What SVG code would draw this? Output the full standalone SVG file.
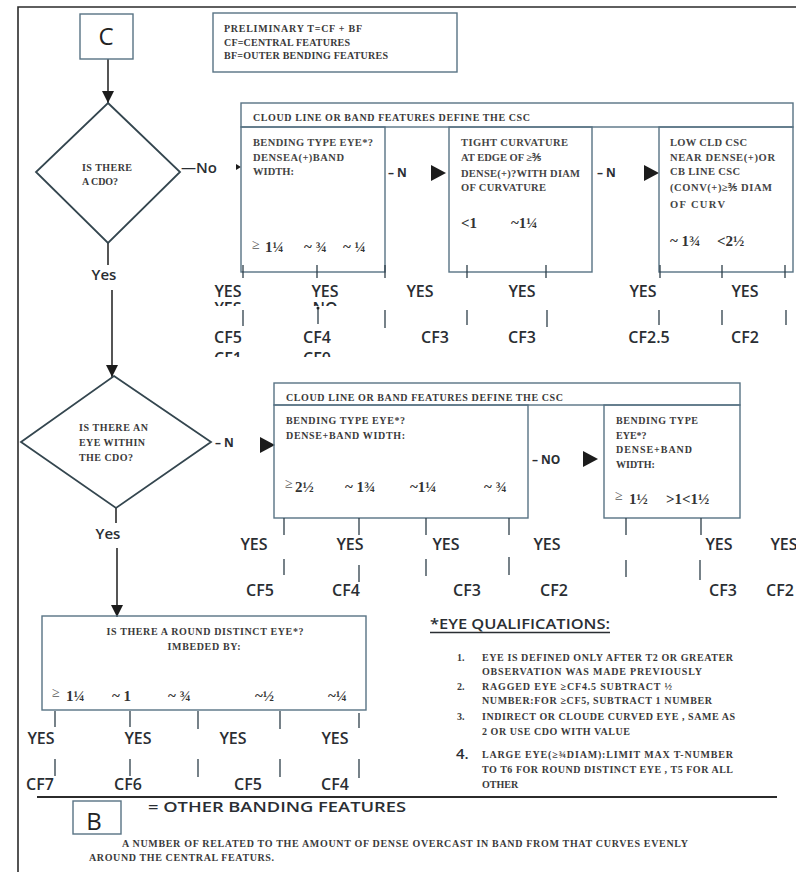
<svg xmlns="http://www.w3.org/2000/svg" width="796" height="872" viewBox="0 0 796 872">
<defs>
<style>
.frame{stroke:#2b2b2b;stroke-width:1.6;fill:none}
.box{stroke:#587384;stroke-width:1.4;fill:none}
.dia{stroke:#34464f;stroke-width:1.8;fill:#fff}
.tick{stroke:#2f3f4a;stroke-width:1.3}
.conn{stroke:#2b2b2b;stroke-width:1.6;fill:none}
.tri{fill:#1c1c1c}
.s{font-family:"Liberation Serif","Times New Roman",serif;font-weight:bold;fill:#3a3a3a;font-size:10px}
.sv{font-family:"Liberation Serif","Times New Roman",serif;font-weight:bold;fill:#333;font-size:15px}
.ge{font-family:"Liberation Serif","Times New Roman",serif;fill:#555;font-size:14px}
.sg{font-family:"Liberation Serif","Times New Roman",serif;font-weight:bold;fill:#444;font-size:10.5px}
.l{font-family:"Open Sans","Liberation Sans",sans-serif;font-weight:600;fill:#2a2e33;font-size:16px;text-anchor:middle}
.y{font-family:"Open Sans","Liberation Sans",sans-serif;font-weight:600;fill:#2a2e33;font-size:15px}
.n{font-family:"Open Sans","Liberation Sans",sans-serif;font-weight:bold;fill:#2a2e33;font-size:12px}
.big{font-family:"Open Sans","Liberation Sans",sans-serif;fill:#222;font-size:24px;text-anchor:middle}
</style>
<marker id="arr" markerUnits="userSpaceOnUse" markerWidth="14" markerHeight="14" refX="12" refY="6" orient="auto">
<path d="M0,0 L12,6 L0,12 Z" fill="#1c1c1c"/>
</marker>
<clipPath id="c1"><rect x="200" y="301" width="160" height="5"/></clipPath>
<clipPath id="c2"><rect x="200" y="351" width="160" height="6"/></clipPath>
</defs>
<rect width="796" height="872" fill="#fff"/>
<g id="frame">
<path class="frame" d="M18,872 V7 H796"/>
</g>
<g id="connectors">
<path class="conn" d="M108,59 V103" marker-end="url(#arr)"/>
<path class="conn" d="M108,243 V265"/>
<path class="conn" d="M112,290 V377" marker-end="url(#arr)"/>
<path class="conn" d="M116,508 V523"/>
<path class="conn" d="M117,548 V617" marker-end="url(#arr)"/>
<polygon class="tri" points="236,164 241,167 236,170"/>
<polygon class="tri" points="431,165 446,173 431,181"/>
<polygon class="tri" points="644,165 659,173 644,181"/>
<polygon class="tri" points="260,437 275,445 260,453"/>
<polygon class="tri" points="583,451 598,459 583,467"/>
<text class="y" x="104" y="280" text-anchor="middle">Yes</text>
<text class="y" x="108" y="539" text-anchor="middle">Yes</text>
<text class="y" x="181" y="173">—No</text>
<text class="n" x="388" y="177">–  N</text>
<text class="n" x="597" y="177">–  N</text>
<text class="n" x="215" y="447">–  N</text>
<text class="n" x="532" y="464">–  NO</text>
</g>
<g id="nodeC">
<rect class="box" x="80" y="14" width="53" height="45"/>
<text class="big" x="106" y="45">C</text>
</g>
<g id="legend">
<rect class="box" x="213" y="13" width="244" height="59"/>
<text class="s" x="224" y="32" textLength="138">PRELIMINARY T=CF + BF</text>
<text class="s" x="224" y="46" textLength="126">CF=CENTRAL FEATURES</text>
<text class="s" x="224" y="59" textLength="164">BF=OUTER BENDING FEATURES</text>
</g>
<g id="cdo">
<polygon class="dia" points="108,103 180,172 108,243 36,172"/>
<text class="s" x="82" y="171" textLength="50">IS THERE</text>
<text class="s" x="82" y="185" textLength="36">A CDO?</text>
</g>
<g id="csc1">
<rect class="box" x="241" y="103" width="552" height="24"/>
<text class="s" x="253" y="121" textLength="277">CLOUD LINE OR BAND FEATURES DEFINE THE CSC</text>
<rect class="box" x="241" y="127" width="144" height="145"/>
<text class="sg" x="253" y="146" textLength="120">BENDING TYPE EYE*?</text>
<text class="sg" x="253" y="161" textLength="91">DENSEA(+)BAND</text>
<text class="sg" x="253" y="175" textLength="41">WIDTH:</text>
<text class="ge" x="252" y="249">≥</text>
<text class="sv" x="265" y="252">1¼</text>
<text class="sv" x="304" y="252">~ ¾</text>
<text class="sv" x="343" y="252">~ ¼</text>
<rect class="box" x="449" y="127" width="143" height="145"/>
<text class="sg" x="461" y="146" textLength="107">TIGHT CURVATURE</text>
<text class="sg" x="461" y="161">AT EDGE OF ≥⅗</text>
<text class="sg" x="461" y="177" textLength="119">DENSE(+)?WITH DIAM</text>
<text class="sg" x="461" y="191" textLength="85">OF CURVATURE</text>
<text class="sv" x="461" y="228">&lt;1</text>
<text class="sv" x="511" y="228">~1¼</text>
<rect class="box" x="659" y="127" width="134" height="145"/>
<text class="sg" x="670" y="146" textLength="77">LOW CLD CSC</text>
<text class="sg" x="670" y="161" textLength="105">NEAR DENSE(+)OR</text>
<text class="sg" x="670" y="175" textLength="70">CB LINE CSC</text>
<text class="sg" x="670" y="191" textLength="102">(CONV(+)≥⅗ DIAM</text>
<text class="sg" x="670" y="208" textLength="55">OF CURV</text>
<text class="sv" x="670" y="246">~ 1¾</text>
<text class="sv" x="717" y="246">&lt;2½</text>
<path class="tick" d="M243,265 V278 M317,265 V278 M385,265 V278 M467,265 V278 M546,265 V278 M660,265 V278 M722,265 V278 M785,265 V278"/>
<path class="tick" d="M243,310 V326 M318,308 V324 M385,310 V328 M467,310 V325 M547,310 V327 M659,310 V325 M722,310 V325 M786,310 V325"/>
<circle cx="318" cy="308" r="1.5" fill="#222"/>
<text class="l" x="228" y="297">YES</text>
<text class="l" x="325" y="297">YES</text>
<text class="l" x="420" y="297">YES</text>
<text class="l" x="522" y="297">YES</text>
<text class="l" x="643" y="297">YES</text>
<text class="l" x="745" y="297">YES</text>
<text class="l" x="228" y="314" clip-path="url(#c1)">YES</text>
<text class="l" x="325" y="314" clip-path="url(#c1)">NO</text>
<text class="l" x="228" y="343">CF5</text>
<text class="l" x="317" y="343">CF4</text>
<text class="l" x="435" y="343">CF3</text>
<text class="l" x="522" y="343">CF3</text>
<text class="l" x="649" y="343">CF2.5</text>
<text class="l" x="745" y="343">CF2</text>
<text class="l" x="228" y="364" clip-path="url(#c2)">CF1</text>
<text class="l" x="317" y="364" clip-path="url(#c2)">CF0</text>
</g>
<g id="eye">
<polygon class="dia" points="114,376 211,442 116,508 21,442"/>
<text class="s" x="79" y="431" textLength="69">IS THERE AN</text>
<text class="s" x="79" y="446" textLength="66">EYE WITHIN</text>
<text class="s" x="79" y="461" textLength="54">THE CDO?</text>
</g>
<g id="csc2">
<rect class="box" x="274" y="383" width="466" height="22"/>
<text class="s" x="286" y="401" textLength="277">CLOUD LINE OR BAND FEATURES DEFINE THE CSC</text>
<rect class="box" x="274" y="405" width="254" height="113"/>
<text class="s" x="286" y="424" textLength="119">BENDING TYPE EYE*?</text>
<text class="s" x="286" y="439" textLength="119">DENSE+BAND WIDTH:</text>
<text class="ge" x="285" y="488">≥</text>
<text class="sv" x="295" y="492">2½</text>
<text class="sv" x="345" y="492">~ 1¾</text>
<text class="sv" x="410" y="492">~1¼</text>
<text class="sv" x="484" y="492">~ ¾</text>
<rect class="box" x="604" y="405" width="136" height="113"/>
<text class="s" x="616" y="424" textLength="82">BENDING TYPE</text>
<text class="s" x="616" y="439">EYE*?</text>
<text class="s" x="616" y="453" textLength="76">DENSE+BAND</text>
<text class="s" x="616" y="468">WIDTH:</text>
<text class="ge" x="615" y="500">≥</text>
<text class="sv" x="629" y="504">1½</text>
<text class="sv" x="666" y="504">&gt;1&lt;1½</text>
<path class="tick" d="M284,518 V535 M359,518 V535 M426,518 V535 M509,518 V535 M626,518 V535 M701,518 V535"/>
<path class="tick" d="M284,559 V575 M359,565 V582 M426,559 V576 M509,557 V575 M626,560 V577 M700,560 V580"/>
<text class="l" x="254" y="550">YES</text>
<text class="l" x="350" y="550">YES</text>
<text class="l" x="446" y="550">YES</text>
<text class="l" x="547" y="550">YES</text>
<text class="l" x="719" y="550">YES</text>
<text class="l" x="784" y="550">YES</text>
<text class="l" x="260" y="596">CF5</text>
<text class="l" x="346" y="596">CF4</text>
<text class="l" x="467" y="596">CF3</text>
<text class="l" x="554" y="596">CF2</text>
<text class="l" x="723" y="596">CF3</text>
<text class="l" x="780" y="596">CF2</text>
</g>
<g id="round">
<rect class="box" x="42" y="616" width="324" height="94"/>
<text class="s" x="205" y="635" text-anchor="middle" textLength="197">IS THERE A ROUND DISTINCT EYE*?</text>
<text class="s" x="204" y="650" text-anchor="middle" textLength="73">IMBEDED BY:</text>
<text class="ge" x="52" y="697">≥</text>
<text class="sv" x="66" y="701">1¼</text>
<text class="sv" x="112" y="701">~ 1</text>
<text class="sv" x="168" y="701">~ ¾</text>
<text class="sv" x="255" y="701">~½</text>
<text class="sv" x="328" y="701">~¼</text>
<path class="tick" d="M55,711 V727 M130,711 V727 M198,711 V729 M280,711 V729 M359,713 V728"/>
<path class="tick" d="M55,759 V776 M130,759 V776 M198,759 V777 M280,759 V777 M359,759 V778"/>
<text class="l" x="41" y="744">YES</text>
<text class="l" x="138" y="744">YES</text>
<text class="l" x="233" y="744">YES</text>
<text class="l" x="335" y="744">YES</text>
<text class="l" x="40" y="790">CF7</text>
<text class="l" x="128" y="790">CF6</text>
<text class="l" x="248" y="790">CF5</text>
<text class="l" x="335" y="790">CF4</text>
</g>
<g id="qualifications">
<text class="y" x="430" y="629" font-size="17" textLength="180" lengthAdjust="spacingAndGlyphs">*EYE QUALIFICATIONS:</text>
<line x1="430" y1="632.5" x2="610" y2="632.5" stroke="#2a2e33" stroke-width="1.3"/>
<text class="s" x="457" y="661">1.</text>
<text class="s" x="482" y="661" textLength="251">EYE IS DEFINED ONLY AFTER T2 OR GREATER</text>
<text class="s" x="482" y="675" textLength="220">OBSERVATION WAS MADE PREVIOUSLY</text>
<text class="s" x="457" y="690">2.</text>
<text class="s" x="482" y="690" textLength="190">RAGGED EYE ≥CF4.5 SUBTRACT  ½</text>
<text class="s" x="482" y="704" textLength="230">NUMBER:FOR ≥CF5, SUBTRACT 1 NUMBER</text>
<text class="s" x="457" y="720">3.</text>
<text class="s" x="482" y="720" textLength="253">INDIRECT OR CLOUDE CURVED EYE , SAME AS</text>
<text class="s" x="482" y="735" textLength="148">2 OR USE CDO WITH VALUE</text>
<text class="y" x="456" y="759" font-weight="bold">4.</text>
<text class="s" x="482" y="758" textLength="251">LARGE EYE(≥¾DIAM):LIMIT MAX  T-NUMBER</text>
<text class="s" x="482" y="773" textLength="251">TO T6 FOR ROUND DISTINCT EYE , T5 FOR ALL</text>
<text class="s" x="482" y="788">OTHER</text>
</g>
<line x1="37" y1="797" x2="777" y2="797" stroke="#2b2b2b" stroke-width="2"/>
<g id="nodeB">
<rect class="box" x="73" y="801" width="48" height="33"/>
<text class="big" x="94" y="830">B</text>
<text class="y" x="148" y="812" font-size="18" font-weight="normal" textLength="258" lengthAdjust="spacingAndGlyphs">= OTHER BANDING FEATURES</text>
<text class="s" x="122" y="847" font-size="9" textLength="566">A NUMBER OF RELATED TO THE AMOUNT OF DENSE OVERCAST IN BAND FROM THAT CURVES EVENLY</text>
<text class="s" x="89" y="861" font-size="9" textLength="185">AROUND THE CENTRAL FEATURS.</text>
</g>
</svg>
